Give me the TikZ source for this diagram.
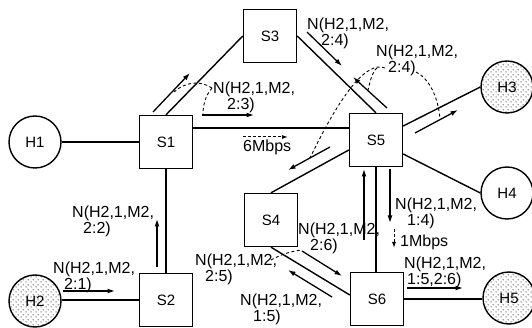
\documentclass[tikz,border=0pt]{standalone}
\usepackage{fontspec}
\setmainfont{Liberation Sans}
\usetikzlibrary{arrows.meta,patterns.meta}
\tikzdeclarepattern{
  name=hostdots, type=uncolored,
  bounding box={(0pt,0pt) and (5pt,5pt)},
  tile size={(5pt,5pt)},
  code={\pgfpathcircle{\pgfpoint{1.25pt}{1.25pt}}{0.6pt}\pgfpathcircle{\pgfpoint{3.75pt}{3.75pt}}{0.6pt}\pgfusepath{fill}}
}
\begin{document}
\begin{tikzpicture}[x=1pt,y=-1pt,
  every node/.style={font=\fontsize{15}{16}\selectfont},
  sw/.style={draw,line width=1.4pt,minimum size=53pt,inner sep=0pt},
  host/.style={draw,circle,line width=1.4pt,minimum size=52pt,inner sep=0pt},
  hostpat/.style={host,pattern={hostdots},pattern color=black},
  link/.style={line width=1.4pt},
  msg/.style={line width=1.3pt,-{Latex[length=7.5pt,width=5pt]}},
  rate/.style={line width=1pt,dash pattern=on 3pt off 2pt,-{Latex[length=6pt,width=4pt]}},
  leader/.style={line width=0.9pt,dash pattern=on 3pt off 2.5pt},
  lbl/.style={anchor=base west,align=left,inner sep=0pt,font=\fontsize{16}{16}\selectfont}]
\useasboundingbox (0,0) rectangle (532,328);
% nodes
\node[host] (H1) at (35,142) {H1};
\node[hostpat] (H2) at (35,301) {H2};
\node[hostpat] (H3) at (507,87) {H3};
\node[host] (H4) at (507,193) {H4};
\node[hostpat] (H5) at (509,298) {H5};
\node[sw] (S1) at (166,142) {S1};
\node[sw] (S2) at (166,300) {S2};
\node[sw] (S3) at (270,36) {S3};
\node[sw] (S4) at (271,220) {S4};
\node[sw] (S5) at (376,140) {S5};
\node[sw] (S6) at (377,299) {S6};
% links
\draw[link] (H1) -- (S1);
\draw[link] (S1.north) -- (S3.west);
\draw[link] (S3.east) -- (S5.north);
\draw[link] ([yshift=14pt]S1.east) -- ([yshift=14pt]S1.east -| S5.west);
\draw[link] (S1) -- (S2);
\draw[link] (H2.east |- S2.west) -- (S2.west);
\draw[link] ([yshift=14pt]S5.east) -- (H3.west);
\draw[link] ([yshift=-14pt]S5.east) -- (H4.west);
\draw[link] (S4.north) -- ([yshift=-10pt]S5.west);
\draw[link] (S5.south) -- (S5.south |- S6.north);
\draw[link] (S4.south) -- ([yshift=4pt]S6.west);
\draw[link] (S6.east) -- (S6.east -| H5.west);
% message arrows
\coordinate (a1s) at (63,291);  \coordinate (a1e) at (115,291);
\coordinate (a2s) at (157,267); \coordinate (a2e) at (157,219);
\coordinate (a3s) at (153,112); \coordinate (a3e) at (190,73);
\coordinate (a4s) at (202,115); \coordinate (a4e) at (254,115);
\coordinate (a6s) at (307,32);  \coordinate (a6e) at (342,66);
\coordinate (a7s) at (387,108); \coordinate (a7e) at (353,77);
\coordinate (a8s) at (415,133); \coordinate (a8e) at (458,110);
\coordinate (a9s) at (330,147); \coordinate (a9e) at (288,170);
\coordinate (a10s) at (364,240); \coordinate (a10e) at (364,169);
\coordinate (a11s) at (390,169); \coordinate (a11e) at (390,223);
\coordinate (a13s) at (407,288); \coordinate (a13e) at (463,288);
\coordinate (a14s) at (302,251); \coordinate (a14e) at (342,276);
\coordinate (a15s) at (332,297); \coordinate (a15e) at (288,270);
\foreach \a in {1,2,3,4,6,7,8,9,10,11,13,14,15}
  \draw[msg] (a\a s) -- (a\a e);
% rate arrows
\coordinate (r1s) at (243,137); \coordinate (r1e) at (288,137);
\coordinate (r2s) at (394,229); \coordinate (r2e) at (394,248);
\draw[rate] (r1s) -- (r1e);
\draw[rate] (r2s) -- (r2e);
% leaders
\coordinate (p23) at (212,88);
\coordinate (q23a) at (174,92);
\coordinate (q23b) at (203,114);
\draw[leader] (p23) .. controls (200,80) and (185,82) .. (q23a);
\draw[leader] (p23) .. controls (205,96) and (203,106) .. (q23b);
\coordinate (p24) at (385,68);
\coordinate (p24b) at (377,68);
\coordinate (p24c) at (416,72);
\coordinate (q24a) at (310,158);
\coordinate (q24b) at (368,90);
\coordinate (q24c) at (440,119);
\draw[leader] (p24) .. controls (365,60) and (338,100) .. (q24a);
\draw[leader] (p24b) .. controls (372,72) and (370,82) .. (q24b);
\draw[leader] (p24c) .. controls (428,78) and (438,95) .. (q24c);
\coordinate (p25) at (271,260);
\coordinate (q25) at (302,250);
\draw[leader] (p25) .. controls (282,254) and (292,251) .. (q25);
% labels (anchor = baseline of second line)
\node[lbl] (l21) at (53,289) {N(H2,1,M2,\\\hspace*{11pt}2:1)};
\node[lbl] (l22) at (72,234) {N(H2,1,M2,\\\hspace*{11pt}2:2)};
\node[lbl] (l23) at (213,110) {N(H2,1,M2,\\\hspace*{14pt}2:3)};
\node[lbl] (l24a) at (307,46) {N(H2,1,M2,\\\hspace*{14pt}2:4)};
\node[lbl] (l24b) at (376,73) {N(H2,1,M2,\\\hspace*{12pt}2:4)};
\node[lbl] (l26) at (298,251) {N(H2,1,M2,\\\hspace*{12pt}2:6)};
\node[lbl] (l14) at (395,226) {N(H2,1,M2,\\\hspace*{12pt}1:4)};
\node[lbl] (l156) at (404,284) {N(H2,1,M2,\\\hspace*{3pt}1:5,2:6)};
\node[lbl] (l25) at (195,281) {N(H2,1,M2,\\\hspace*{10pt}2:5)};
\node[lbl] (l15) at (240,321) {N(H2,1,M2,\\\hspace*{13pt}1:5)};
\node[lbl] (m6) at (243,152) {6Mbps};
\node[lbl] (m1) at (400,247) {1Mbps};
\end{tikzpicture}
\end{document}
